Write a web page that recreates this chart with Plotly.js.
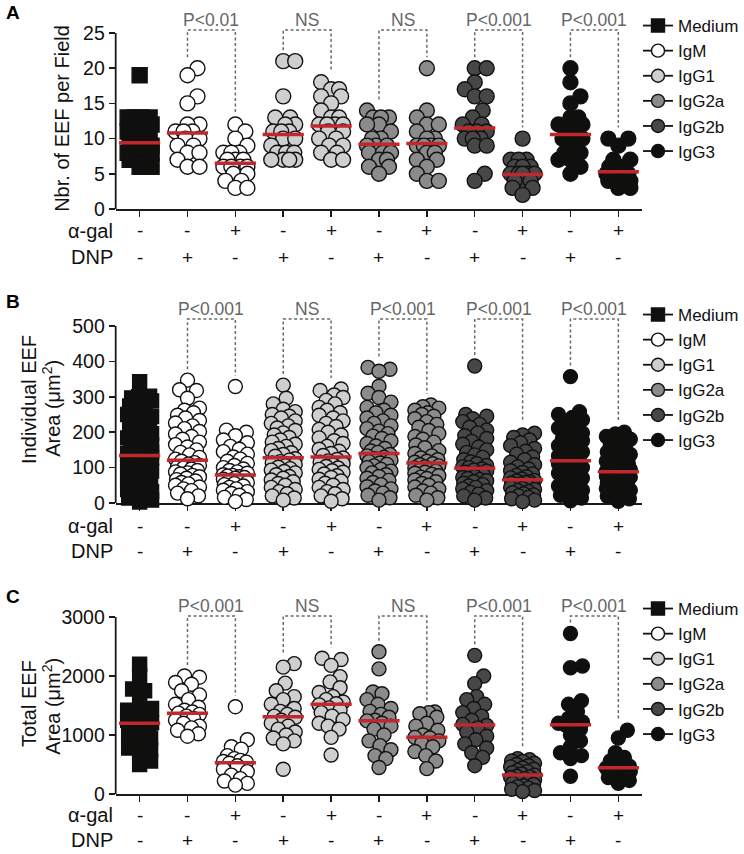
<!DOCTYPE html>
<html><head><meta charset="utf-8">
<script src="https://cdn.plot.ly/plotly-3.0.1.min.js"></script>
<style>html,body{margin:0;padding:0;background:#fff}</style>
</head><body><div id="chart" style="width:744px;height:854px"></div>
<script>
// ---------------- DATA ----------------
const groupSeries = ['Medium','IgM','IgM','IgG1','IgG1','IgG2a','IgG2a','IgG2b','IgG2b','IgG3','IgG3'];
const seriesNames = ['Medium','IgM','IgG1','IgG2a','IgG2b','IgG3'];
const alphaGal = ['-','-','+','-','+','-','+','-','+','-','+'];
const dnp      = ['-','+','-','+','-','+','-','+','-','+','-'];

// Panel A: Nbr. of EEF per Field
const eefCount = [
  [19,13,13,13,13,12,12,11,11,11,10,10,10,9,9,9,9,8,8,8,8,7,7,7,6,6],
  [20,19,16,15,12,12,11,11,11,10,10,9,9,8,8,7,6,6],
  [12,11,10,9,8,8,8,7,7,7,6,6,6,6,5,5,4,4,3,3],
  [21,21,16,13,13,12,12,11,11,11,10,10,9,8,8,8,7,7,7,7],
  [18,17,17,16,16,15,14,13,13,12,12,12,12,11,11,10,10,9,9,8,8,7,7],
  [14,13,13,13,12,12,11,10,10,9,9,9,8,8,8,7,7,6,6,5],
  [20,14,13,12,12,11,10,10,9,9,9,9,8,8,7,7,6,5,4,4],
  [20,20,18,17,16,16,14,13,12,12,11,11,11,10,10,10,9,9,5,4],
  [10,7,7,7,6,6,6,5,5,5,5,5,4,4,4,3,3,2],
  [20,18,16,15,13,13,12,12,11,11,10,10,10,9,8,8,7,7,6,5],
  [10,10,9,7,7,6,6,6,5,5,5,5,5,4,4,4,4,3,3]
];
const eefCountMedian = [9.4,10.8,6.5,10.6,11.8,9.2,9.3,11.5,4.9,10.6,5.3];
const eefCountP = ['P<0.01','NS','NS','P<0.001','P<0.001'];

// Panel B: Individual EEF Area (µm²)
const eefArea = [
  [343,302,300,297,292,288,281,274,265,258,250,244,236,228,221,214,207,200,196,190,184,178,171,165,160,154,149,144,140,137,134,131,127,122,118,113,108,104,101,98,94,90,85,80,76,71,66,61,56,50,44,38,32,26,20,14,8,3],
  [347,320,318,296,268,262,255,248,240,233,226,218,210,202,195,188,180,172,165,158,150,143,136,129,124,118,114,110,106,102,99,96,92,88,85,82,78,74,70,66,62,58,54,50,45,40,35,28,20,12],
  [329,206,200,190,178,170,160,152,145,138,130,124,118,112,106,100,96,92,88,84,80,78,76,74,72,70,67,64,61,58,55,52,48,44,40,36,32,27,22,16,10,4],
  [333,296,280,265,258,250,245,240,232,225,218,212,205,198,192,185,178,172,166,160,154,148,142,137,132,125,121,117,113,109,105,101,97,93,89,85,80,75,70,65,60,55,50,44,38,32,26,20,14,8],
  [322,318,305,298,290,280,270,262,255,248,240,232,225,216,208,200,192,184,176,168,160,152,146,140,134,127,123,119,115,111,107,103,99,95,91,87,82,77,72,67,62,56,50,44,38,32,26,20,12,5],
  [383,378,372,330,310,298,285,270,262,255,248,240,232,225,218,210,203,196,189,182,175,168,161,154,147,143,137,133,129,125,121,117,113,109,105,100,95,90,85,80,75,70,64,58,52,46,40,34,28,22,15,8],
  [277,272,268,262,255,250,245,238,230,222,214,205,196,188,180,172,164,156,148,140,133,127,122,118,115,111,108,105,102,99,96,93,90,87,84,81,77,73,69,65,60,55,50,45,40,34,28,22,15,8],
  [387,250,245,238,230,222,214,206,198,190,182,174,166,158,150,143,136,129,122,116,111,106,102,100,96,93,90,87,84,81,78,75,72,69,66,63,60,56,52,48,44,40,35,30,25,20,14,8],
  [197,192,185,178,170,162,154,146,138,130,122,115,108,102,96,91,86,82,78,74,71,68,64,62,60,58,56,54,52,50,47,44,41,38,35,32,29,26,23,20,16,12,8,4],
  [357,258,250,242,235,228,220,212,205,198,190,183,176,169,162,156,150,144,138,133,128,124,121,117,114,111,108,104,100,96,92,88,84,80,75,70,65,60,54,48,42,36,30,22,14,6],
  [200,195,188,180,172,165,158,151,144,137,130,124,118,112,107,102,98,95,92,90,86,84,82,79,76,73,70,66,62,58,54,50,46,41,36,31,25,19,12,5]
];
const eefAreaMedian = [134,121,79,128,130,140,113,98,66,119,88];
const eefAreaP = ['P<0.001','NS','P<0.001','P<0.001','P<0.001'];

// Panel C: Total EEF Area (µm²)
const totalArea = [
  [2200,2010,1780,1750,1580,1450,1420,1380,1300,1250,1220,1210,1200,1150,1100,1050,1000,950,850,800,780,750,700,560,500],
  [2000,1980,1890,1860,1750,1680,1600,1520,1470,1420,1390,1370,1350,1320,1280,1250,1200,1150,1120,1080,1020,980],
  [1480,920,800,760,650,600,570,550,540,520,480,420,380,320,260,220,180,150],
  [2210,2150,1880,1750,1650,1600,1520,1450,1400,1350,1320,1300,1250,1200,1150,1100,1050,1000,950,900,850,420],
  [2300,2280,2180,1990,1900,1800,1720,1650,1600,1560,1530,1510,1460,1420,1380,1320,1260,1200,1150,1100,960,660],
  [2410,2120,1730,1700,1600,1520,1450,1400,1350,1300,1250,1240,1200,1150,1100,1000,900,820,750,650,600,450],
  [1390,1380,1360,1300,1200,1150,1080,1000,960,950,900,860,800,720,650,560,430],
  [2350,2000,1870,1650,1600,1520,1450,1380,1320,1250,1180,1160,1120,1050,980,920,850,780,700,620,480],
  [600,580,560,550,520,500,480,460,440,420,400,380,360,340,320,300,290,280,260,240,220,200,180,160,140,120,100,80,60,40],
  [2720,2170,2140,1580,1520,1400,1280,1220,1200,1180,1170,1100,1000,900,800,700,650,600,300],
  [1080,950,700,620,560,500,470,450,440,420,380,330,280,230,180]
];
const totalAreaMedian = [1198,1367,531,1311,1520,1243,960,1169,322,1175,446];
const totalAreaP = ['P<0.001','NS','NS','P<0.001','P<0.001'];

// ---------------- STYLE / LAYOUT ----------------
const FONT = 'Arial, "Liberation Sans", Helvetica, sans-serif';
const W = 744, H = 854;
const plotL = 116, plotR = 644;
const xPx = (plotR - plotL) / 11;
const fills = {Medium:'#0f0f0d', IgM:'#ffffff', IgG1:'#cfcfcf', IgG2a:'#8b8b8b', IgG2b:'#474747', IgG3:'#0f0f0d'};
const RED = '#c0282d';
const DARK = '#1a1a1a';
const TXT = '#111111';

const panels = [
  {suf:'',  data:eefCount,  med:eefCountMedian,  p:eefCountP,  bottom:209, tickTopPx:33,  tickTop:25,   topPx:12,  dtick:5,    bracketPx:30,  rowPx:[231,257], diam:15, legendTop:8,
   titles:[['Nbr. of EEF per Field', 62, 118]], letter:'A', letterY:12},
  {suf:'2', data:eefArea,   med:eefAreaMedian,   p:eefAreaP,   bottom:503, tickTopPx:326, tickTop:500,  topPx:298, dtick:100,  bracketPx:319, rowPx:[526,551], diam:14, legendTop:297,
   titles:[['Individual EEF', 29, 399], ['Area (μm<sup>2</sup>)', 51, 408]], letter:'B', letterY:301},
  {suf:'3', data:totalArea, med:totalAreaMedian, p:totalAreaP, bottom:794, tickTopPx:617, tickTop:3000, topPx:592, dtick:1000, bracketPx:616, rowPx:[815,840], diam:14, legendTop:591,
   titles:[['Total EEF', 29, 703], ['Area (μm<sup>2</sup>)', 51, 706]], letter:'C', letterY:596}
];

// deterministic beeswarm offsets (pixels) from values
function swarm(vals, s, diam, maxHalf) {
  const order = vals.map((v,i)=>i).sort((a,b)=>vals[a]-vals[b]);
  const placed = [];
  const off = new Array(vals.length).fill(0);
  const minD = diam * 0.8;
  const step = 1;
  const nSteps = Math.floor(maxHalf/step)*2;
  for (const i of order) {
    const y = vals[i]*s;
    let bestX = 0, bestScore = -1;
    for (let k = 0; k <= nSteps; k++) {
      const cx = (k%2 ? 1 : -1) * Math.ceil(k/2) * step;
      let md = Infinity;
      for (const p of placed) {
        const dy = p.y - y;
        if (Math.abs(dy) < minD) { const d = Math.hypot(p.x - cx, dy); if (d < md) md = d; }
      }
      if (md >= minD) { bestX = cx; bestScore = Infinity; break; }
      if (md > bestScore) { bestScore = md; bestX = cx; }
    }
    placed.push({x:bestX, y:y});
    off[i] = bestX;
  }
  return off;
}

const traces = [];
const shapes = [];
const annotations = [];
const layout = {
  width:W, height:H, margin:{l:0,r:0,t:0,b:0},
  paper_bgcolor:'#fff', plot_bgcolor:'rgba(0,0,0,0)',
  font:{family:FONT, color:TXT}, showlegend:true,
  shapes:shapes, annotations:annotations
};
const toPaperY = px => 1 - px/H;

panels.forEach((P, pi) => {
  const s = (P.bottom - P.tickTopPx) / P.tickTop;
  const rangeTop = (P.bottom - P.topPx) / s;
  const xa = 'x' + P.suf, ya = 'y' + P.suf;
  const xKey = 'xaxis' + P.suf, yKey = 'yaxis' + P.suf;
  const tv = []; for (let v = 0; v <= P.tickTop + 1e-9; v += P.dtick) tv.push(v);
  layout[xKey] = {domain:[plotL/W, plotR/W], range:[-0.5,10.5], anchor:ya, showline:true, linecolor:DARK, linewidth:1.8,
    ticks:'outside', tickvals:[0,1,2,3,4,5,6,7,8,9,10], ticklen:6, tickwidth:1.5, tickcolor:DARK,
    showticklabels:false, showgrid:false, zeroline:false, layer:'below traces', fixedrange:true};
  layout[yKey] = {domain:[toPaperY(P.bottom), toPaperY(P.topPx)], range:[0, rangeTop], anchor:xa, showline:false,
    ticks:'outside', tickvals:tv, ticklen:6, tickwidth:1.5, tickcolor:DARK, tickfont:{size:19.5, color:TXT, family:FONT},
    showgrid:false, zeroline:false, fixedrange:true};
  // y axis line up to top tick
  shapes.push({type:'line', xref:'paper', yref:ya, x0:plotL/W, x1:plotL/W, y0:0, y1:P.tickTop, line:{color:DARK, width:1.8}, layer:'below'});

  // points
  P.data.forEach((vals, g) => {
    const offs = swarm(vals, s, P.diam, 12);
    const ser = groupSeries[g];
    traces.push({type:'scatter', mode:'markers', xaxis:xa, yaxis:ya,
      x: vals.map((v,j) => g + offs[j]/xPx), y: vals,
      marker:{symbol: ser==='Medium' ? 'square' : 'circle', size: P.diam, color: fills[ser], line:{color:'#111', width:1.4}},
      cliponaxis:false, showlegend:false, hoverinfo:'skip'});
  });
  // median lines
  const mx = [], my = [];
  P.med.forEach((m, g) => { mx.push(g-0.43, g+0.43, null); my.push(m, m, null); });
  traces.push({type:'scatter', mode:'lines', xaxis:xa, yaxis:ya, x:mx, y:my, line:{color:RED, width:3.5}, showlegend:false, hoverinfo:'skip'});

  // brackets + p-values
  const topV = (P.bottom - P.bracketPx) / s;
  P.p.forEach((txt, b) => {
    const gL = 1 + 2*b, gR = 2 + 2*b;
    const legL = Math.max(...P.data[gL]) + 11/s;
    const legR = Math.max(...P.data[gR]) + 11/s;
    shapes.push({type:'path', xref:xa, yref:ya, path:`M ${gL},${legL} L ${gL},${topV} L ${gR},${topV} L ${gR},${legR}`,
      line:{color:'#6a6a6a', width:1.5, dash:'3px,2.5px'}, layer:'above'});
    annotations.push({xref:xa, yref:ya, x:gL+0.5, y:(P.bottom - (P.bracketPx - 10))/s, text:txt, showarrow:false,
      xanchor:'center', yanchor:'middle', font:{size:17.5, color:'#666666', family:FONT}});
  });

  // alpha-gal / DNP rows
  const rows = [['α-gal', alphaGal], ['DNP', dnp]];
  rows.forEach(([lab, arr], r) => {
    const yp = toPaperY(P.rowPx[r]);
    annotations.push({xref:'paper', yref:'paper', x:(plotL-1)/W, y:yp, text:lab, showarrow:false, xanchor:'right', yanchor:'middle', font:{size:20, color:TXT, family:FONT}});
    arr.forEach((sg, g) => annotations.push({xref:xa, yref:'paper', x:g, y:yp, text:sg, showarrow:false, xanchor:'center', yanchor:'middle', font:{size:19, color:TXT, family:FONT}}));
  });

  // y titles
  P.titles.forEach(([t, tx, ty]) => {
    annotations.push({xref:'paper', yref:'paper', x:tx/W, y:toPaperY(ty), text:t, textangle:-90, showarrow:false,
      xanchor:'center', yanchor:'middle', font:{size:20, color:TXT, family:FONT}});
  });
  // panel letter
  annotations.push({xref:'paper', yref:'paper', x:13/W, y:toPaperY(P.letterY), text:'<b>'+P.letter+'</b>', showarrow:false,
    xanchor:'center', yanchor:'middle', font:{size:19, color:'#000', family:FONT}});

  // legend
  const lgKey = pi === 0 ? 'legend' : 'legend' + (pi+1);
  layout[lgKey] = {x:640/W, xanchor:'left', y:toPaperY(P.legendTop), yanchor:'top', bgcolor:'rgba(0,0,0,0)', borderwidth:0,
    font:{size:17, color:TXT, family:FONT}, tracegroupgap:0, itemwidth:30, traceorder:'normal'};
  seriesNames.forEach(name => {
    traces.push({type:'scatter', mode:'lines+markers', xaxis:xa, yaxis:ya, x:[null], y:[null], name:name, legend:lgKey, showlegend:true,
      marker:{symbol: name==='Medium' ? 'square' : 'circle', size:13, color:fills[name], line:{color:'#111', width:1.4}},
      line:{color:'#111', width:1.8}, hoverinfo:'skip'});
  });
});

Plotly.newPlot('chart', traces, layout, {staticPlot:true, displayModeBar:false});
</script>
</body></html>
